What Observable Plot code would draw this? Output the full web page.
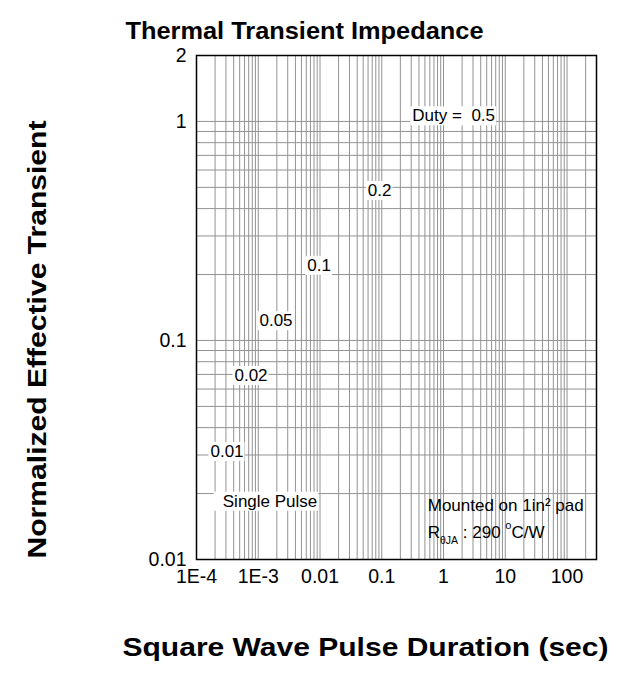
<!DOCTYPE html>
<html>
<head>
<meta charset="utf-8">
<script src="https://cdn.jsdelivr.net/npm/d3@7"></script>
<script src="https://cdn.jsdelivr.net/npm/@observablehq/plot@0.6"></script>
<style>
  body { margin: 0; background: white; }
</style>
</head>
<body>
<div id="chart"></div>
<script>
// ---- data ----
const xDomain = [1e-4, 300];
const yDomain = [0.01, 2];
const xTicks = [1e-4, 1e-3, 0.01, 0.1, 1, 10, 100];
const xTickLabels = ["1E-4", "1E-3", "0.01", "0.1", "1", "10", "100"];
const yTicks = [0.01, 0.1, 1, 2];
const yTickLabels = ["0.01", "0.1", "1", "2"];
const dutyLabels = ["Duty = \u00a00.5", "0.2", "0.1", "0.05", "0.02", "0.01", "Single Pulse"];
const dutyX = [1.46, 0.0925, 0.00966, 0.00194, 0.000763, 0.000312, 0.00155];
const dutyY = [1.06, 0.484, 0.22, 0.123, 0.0692, 0.0311, 0.01845];
const noteLines = ["Mounted on 1in\u00b2 pad", "R\u03b8JA : 290 \u00b0C/W"];
const noteX = [0.555, 0.555];
const noteY = [0.0176, 0.0133];
const title = "Thermal Transient Impedance";
const xTitle = "Square Wave Pulse Duration (sec)";
const yTitle = "Normalized Effective Transient";

// ---- derived tables ----
const duty = dutyLabels.map((label, i) => ({label, x: dutyX[i], y: dutyY[i]}));
const note = noteLines.map((label, i) => ({label, x: noteX[i], y: noteY[i]}));
const gridXValues = d3.scaleLog().domain(xDomain).ticks(20);
const gridYValues = d3.scaleLog().domain(yDomain).ticks(20);

const FONT = "'Liberation Sans', Arial, Helvetica, sans-serif";
const gridColor = "#939393";

const svg = Plot.plot({
  width: 636,
  height: 674,
  marginLeft: 196,
  marginRight: 40,
  marginTop: 55,
  marginBottom: 115,
  style: {fontFamily: FONT, background: "white", color: "black"},
  x: {type: "log", domain: xDomain},
  y: {type: "log", domain: yDomain},
  marks: [
    Plot.gridX({ticks: gridXValues, stroke: gridColor, strokeOpacity: 1, strokeWidth: 1}),
    Plot.gridY({ticks: gridYValues, stroke: gridColor, strokeOpacity: 1, strokeWidth: 1}),
    Plot.axisX({ticks: xTicks, tickFormat: d => xTickLabels[xTicks.indexOf(d)], tickSize: 0, tickPadding: 10, fontSize: 19.5, label: null}),
    Plot.axisY({ticks: yTicks, tickFormat: d => yTickLabels[yTicks.indexOf(d)], tickSize: 0, tickPadding: 10, fontSize: 19.5, label: null}),
    Plot.text(duty, {x: "x", y: "y", text: "label", fontSize: 17, fill: "black"}),
    Plot.text(note, {x: "x", y: "y", text: "label", fontSize: 17, fill: "black", textAnchor: "start"}),
    Plot.text([title], {text: d => d, frameAnchor: "top", dx: -92, dy: -33, fontSize: 23.5, fontWeight: "bold", fill: "black"}),
    Plot.text([xTitle], {text: d => d, frameAnchor: "bottom", dx: -31, dy: 96, fontSize: 25, fontWeight: "bold", fill: "black"}),
    Plot.text([yTitle], {text: d => d, frameAnchor: "left", dx: -159, dy: 32, rotate: -90, fontSize: 25, fontWeight: "bold", fill: "black"}),
    Plot.frame({stroke: "black", strokeWidth: 1.5})
  ]
});

document.getElementById("chart").append(svg);

// ---- post-processing: white label backgrounds, sub/superscripts, stretched titles ----
const NS = "http://www.w3.org/2000/svg";
const defaultPad = [2, 1, 0, 0]; // left, right, top, bottom
const padFor = {"Single Pulse": [9, 1, 0, 0]};
const notePad = [25, 1, 9, 2];
const titleLengths = {};
titleLengths[title] = 358;
titleLengths[xTitle] = 486;
titleLengths[yTitle] = 438;

function addBg(parent, before, bb, pad, transform) {
  const r = document.createElementNS(NS, "rect");
  r.setAttribute("x", bb.x - pad[0]);
  r.setAttribute("y", bb.y - pad[2]);
  r.setAttribute("width", bb.width + pad[0] + pad[1]);
  r.setAttribute("height", bb.height + pad[2] + pad[3]);
  r.setAttribute("fill", "white");
  r.setAttribute("stroke", "none");
  if (transform) r.setAttribute("transform", transform);
  parent.insertBefore(r, before);
  return r;
}

const texts = Array.from(svg.querySelectorAll("text"));
let noteEls = [];
texts.forEach(t => {
  const s = t.textContent;
  if (titleLengths[s]) {
    const L = titleLengths[s];
    t.setAttribute("text-anchor", "start");
    t.setAttribute("x", (+t.getAttribute("x") || 0) - L / 2);
    t.setAttribute("textLength", L);
    t.setAttribute("lengthAdjust", "spacingAndGlyphs");
  } else if (dutyLabels.includes(s)) {
    addBg(t.parentNode, t, t.getBBox(), padFor[s] || defaultPad, t.getAttribute("transform"));
  } else if (s === noteLines[1]) {
    t.textContent = "";
    const parts = [
      ["R", 17, 0],
      ["\u03b8JA", 10.5, 6],
      ["\u00a0: 290 ", 17, -6],
      ["o", 11, -9],
      ["C/W", 17, 9]
    ];
    parts.forEach(([txt, fs, dy]) => {
      const ts = document.createElementNS(NS, "tspan");
      ts.textContent = txt;
      ts.setAttribute("font-size", fs);
      if (dy) ts.setAttribute("dy", dy);
      t.appendChild(ts);
    });
    noteEls.push(t);
  } else if (s === noteLines[0]) {
    noteEls.push(t);
  }
});
if (noteEls.length) {
  let x0 = Infinity, y0 = Infinity, x1 = -Infinity, y1 = -Infinity;
  noteEls.forEach(t => {
    const b = t.getBBox();
    x0 = Math.min(x0, b.x); y0 = Math.min(y0, b.y);
    x1 = Math.max(x1, b.x + b.width); y1 = Math.max(y1, b.y + b.height);
  });
  const g = noteEls[0].parentNode;
  addBg(g, g.firstChild, {x: x0, y: y0, width: x1 - x0, height: y1 - y0}, notePad, null);
}
</script>
</body>
</html>
